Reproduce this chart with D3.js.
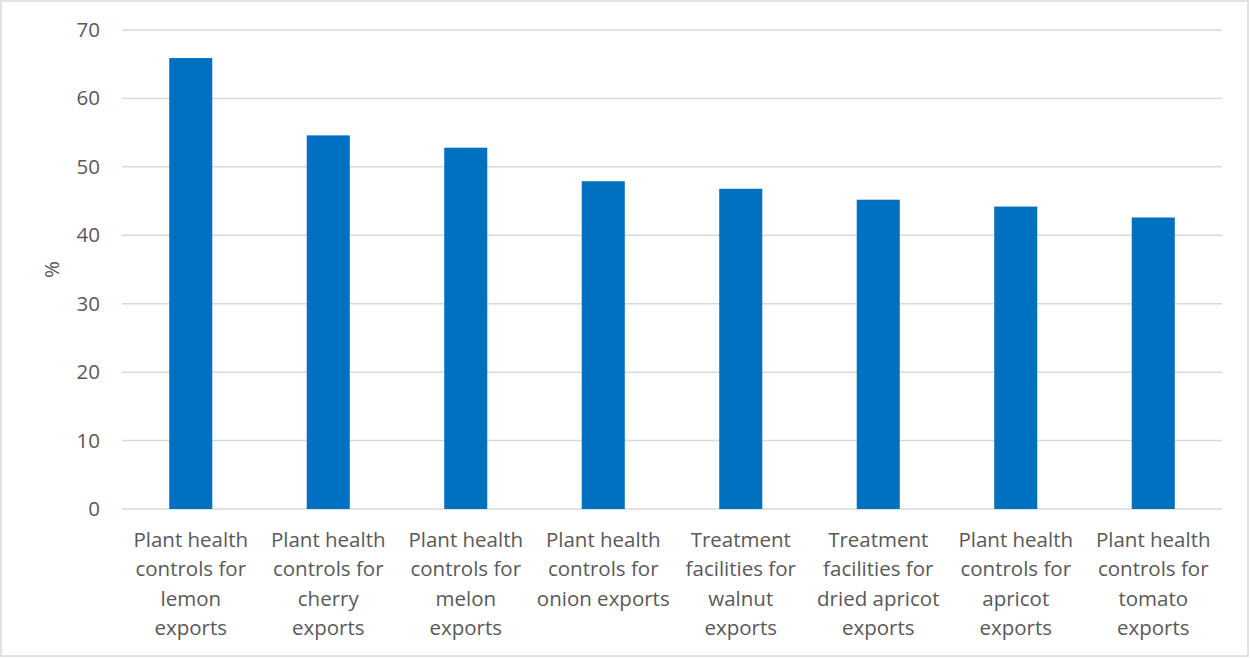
<!DOCTYPE html>
<html>
<head>
<meta charset="utf-8">
<script src="https://cdn.jsdelivr.net/npm/d3@7"></script>
<style>
body{margin:0;background:#fff;}
.axis text{font-family:"Open Sans",sans-serif;fill:#595959;}
</style>
</head>
<body>
<div id="chart"></div>
<script>
var categories=[
    ["Plant health","controls for","lemon","exports"],
    ["Plant health","controls for","cherry","exports"],
    ["Plant health","controls for","melon","exports"],
    ["Plant health","controls for","onion exports"],
    ["Treatment","facilities for","walnut","exports"],
    ["Treatment","facilities for","dried apricot","exports"],
    ["Plant health","controls for","apricot","exports"],
    ["Plant health","controls for","tomato","exports"]
];
var values=[65.9,54.6,52.8,47.9,46.8,45.2,44.2,42.6];
var yTicks=[0,10,20,30,40,50,60,70];

var W=1250,H=658;
var margin={left:122,right:28,top:30,bottom:149};
var width=W-margin.left-margin.right;
var height=H-margin.top-margin.bottom;

var svg=d3.select('#chart')
    .append('svg')
    .attr('width',W)
    .attr('height',H);

svg.append('rect')
    .attr('x',1).attr('y',1)
    .attr('width',W-3).attr('height',H-3)
    .attr('fill','#fff')
    .attr('stroke','#d9d9d9')
    .attr('stroke-width',1.5);

var g=svg.append('g')
    .attr('transform','translate('+margin.left+','+margin.top+')');

var idx=d3.range(values.length);
var x=d3.scaleBand()
    .domain(idx)
    .range([0,width])
    .padding(0);
var y=d3.scaleLinear()
    .domain([0,70])
    .range([height,0]);

// gridlines
g.selectAll('.grid')
    .data(yTicks)
    .enter()
    .append('line')
    .attr('class','grid')
    .attr('x1',0)
    .attr('x2',width)
    .attr('y1',function(d){return y(d);})
    .attr('y2',function(d){return y(d);})
    .attr('stroke','#d9d9d9')
    .attr('stroke-width',1.5);

var barW=x.bandwidth()*0.313;
g.selectAll('.bar')
    .data(values)
    .enter()
    .append('rect')
    .attr('class','bar')
    .attr('x',function(d,i){return x(i)+(x.bandwidth()-barW)/2;})
    .attr('y',function(d){return y(d);})
    .attr('width',barW)
    .attr('height',function(d){return height-y(d);})
    .attr('fill','#0070c0');

// y axis
var yAxis=d3.axisLeft(y)
    .tickValues(yTicks)
    .tickSize(0)
    .tickPadding(22);
var yg=g.append('g')
    .attr('class','axis')
    .call(yAxis);
yg.select('.domain').remove();
yg.selectAll('text').style('font-size','20.5px');

// x labels
var xg=g.append('g')
    .attr('class','axis');
var lab=xg.selectAll('.xlab')
    .data(categories)
    .enter()
    .append('text')
    .attr('class','xlab')
    .attr('text-anchor','middle')
    .attr('transform',function(d,i){
        return 'translate('+(x(i)+x.bandwidth()/2)+','+(height+38)+')';
    })
    .style('font-size','20.5px');
lab.selectAll('tspan')
    .data(function(d){return d;})
    .enter()
    .append('tspan')
    .attr('x',0)
    .attr('dy',function(d,i){return i===0?0:29.3;})
    .text(function(d){return d;});

// y title
svg.append('g')
    .attr('class','axis')
    .append('text')
    .attr('transform','translate(59,'+(margin.top+height/2)+') rotate(-90)')
    .attr('text-anchor','middle')
    .style('font-size','20.5px')
    .text('%');
</script>
</body>
</html>
